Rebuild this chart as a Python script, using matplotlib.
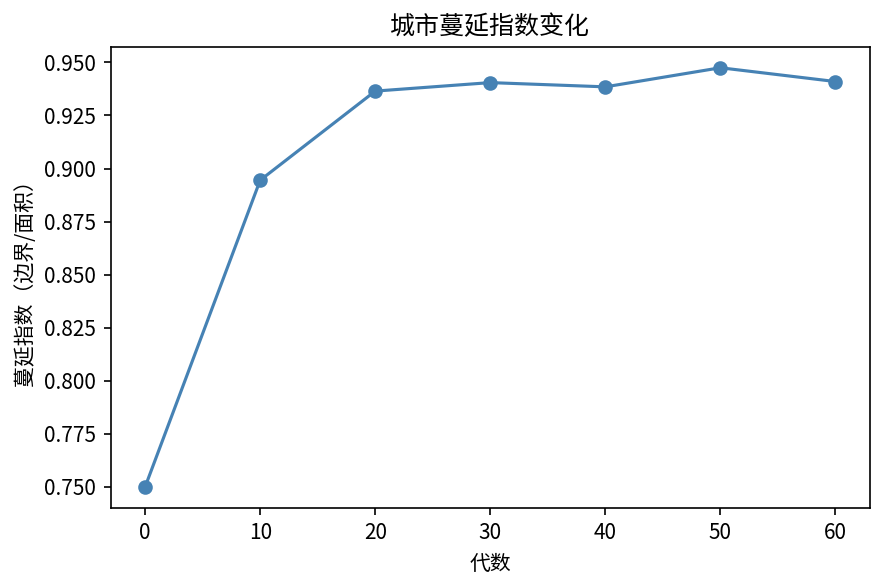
import matplotlib
matplotlib.use("Agg")
import matplotlib.pyplot as plt

plt.rcParams['font.family'] = ['Noto Sans CJK SC', 'DejaVu Sans']
plt.rcParams['axes.unicode_minus'] = False

generations = [0, 10, 20, 30, 40, 50, 60]
sprawl_index = [0.750, 0.8945, 0.9365, 0.9405, 0.9385, 0.9475, 0.941]

fig, ax = plt.subplots(figsize=(5.9, 3.9), dpi=150)
ax.plot(generations, sprawl_index, marker="o", color="steelblue")
ax.set_title("城市蔓延指数变化")
ax.set_xlabel("代数")
ax.set_ylabel("蔓延指数（边界/面积）")
fig.subplots_adjust(left=0.125, right=0.983, top=0.92, bottom=0.132)
fig.savefig("out.png", dpi=150)
